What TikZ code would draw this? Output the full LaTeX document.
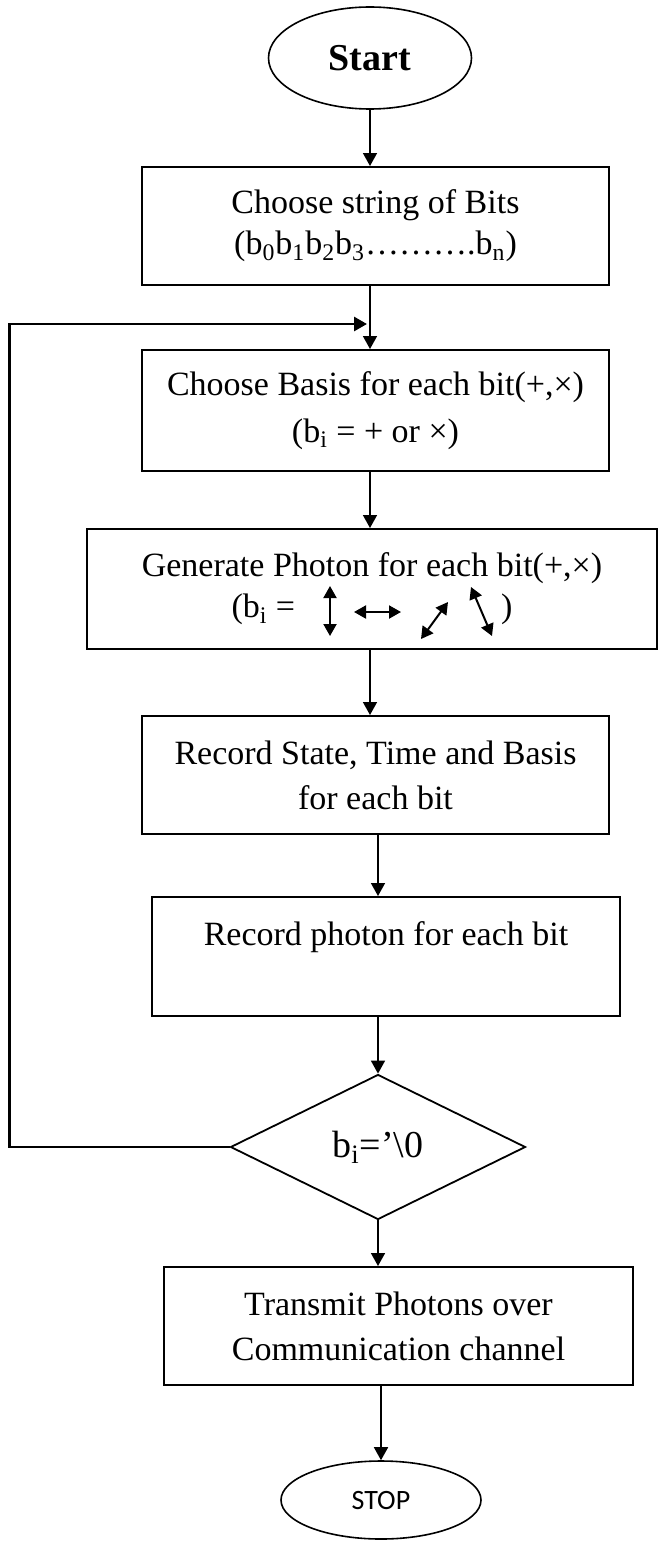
\documentclass[tikz,border=0pt]{standalone}
\usepackage{fontspec}
\setmainfont{Liberation Serif}
\newfontfamily\stopfont{Carlito}
\usetikzlibrary{shapes.geometric,arrows.meta}

\begin{document}
\begin{tikzpicture}[x=0.5pt,y=-0.5pt,
  caixa/.style = {draw,line width=1pt,rectangle,minimum width=233.5pt,minimum height=59pt,inner sep=0pt,align=center,font=\fontsize{17}{20.5}\selectfont},
  oval/.style = {draw,line width=0.8pt,ellipse,inner sep=0pt},
  losango/.style = {draw,line width=0.9pt,diamond,aspect=2,inner sep=0pt,minimum width=147.5pt,minimum height=72.5pt,font=\fontsize{19}{22}\selectfont},
  seta/.style = {line width=0.8pt,-{Triangle[length=6.5pt,width=7pt]}},
  laco/.style = {line width=1.4pt,-{Triangle[length=6.5pt,width=7pt]}},
  foton/.style = {line width=1pt,{Triangle[length=6pt,width=6.5pt]}-{Triangle[length=6pt,width=6.5pt]}}]
\useasboundingbox (0,0) rectangle (658,1541);

\node[oval,minimum width=101.5pt,minimum height=51pt,font=\bfseries\fontsize{19}{22}\selectfont] (start) at (370,58) {Start};
\node[caixa] (bits) at (375.5,226) {Choose string of Bits\\(b\textsubscript{0}b\textsubscript{1}b\textsubscript{2}b\textsubscript{3}……….b\textsubscript{n})};
\node[caixa,minimum height=60.5pt] (basis) at (375.5,410.5) {Choose Basis for each bit(+,×)\\[3pt](b\textsubscript{i} = + or ×)};
\node[caixa,minimum width=285pt,minimum height=60pt] (photon) at (372,589) {Generate Photon for each bit(+,×)\\(b\textsubscript{i} =\hspace{103pt})};
\node[caixa] (state) at (375.5,775) {Record State, Time and Basis\\[2pt]for each bit};
\node[caixa,minimum width=234pt,minimum height=59.5pt] (record) at (386,956.5) {Record photon for each bit\\[2pt]\mbox{}};
\node[losango] (test) at (378,1147) {b\textsubscript{i}=’\textbackslash0};
\node[caixa,minimum width=234.5pt] (transmit) at (398.5,1326) {Transmit Photons over\\[2pt]Communication channel};
\node[oval,minimum width=100pt,minimum height=39pt,font=\stopfont\fontsize{14}{16}\selectfont] (stop) at (381,1500) {STOP};
\coordinate (retorno) at (367,324);

\draw[foton] (330,586) -- (330,636);
\draw[foton] (354,612) -- (401,612);
\draw[foton] (421,639) -- (448,602);
\draw[foton] (471,587) -- (492,636);

\draw[seta] (start) -- (start |- bits.north);
\draw[seta] (bits.south -| start) -- (basis.north -| start);
\draw[seta] (basis.south -| start) -- (photon.north -| start);
\draw[seta] (photon.south -| start) -- (state.north -| start);
\draw[seta] (state.south -| test) -- (record.north -| test);
\draw[seta] (record.south -| test) -- (test.north);
\draw[seta] (test) -- (test |- transmit.north);
\draw[seta] (transmit.south -| stop) -- (stop);
\draw[laco] (test.west) -- ++(-220,0) |- (retorno);
\end{tikzpicture}
\end{document}
